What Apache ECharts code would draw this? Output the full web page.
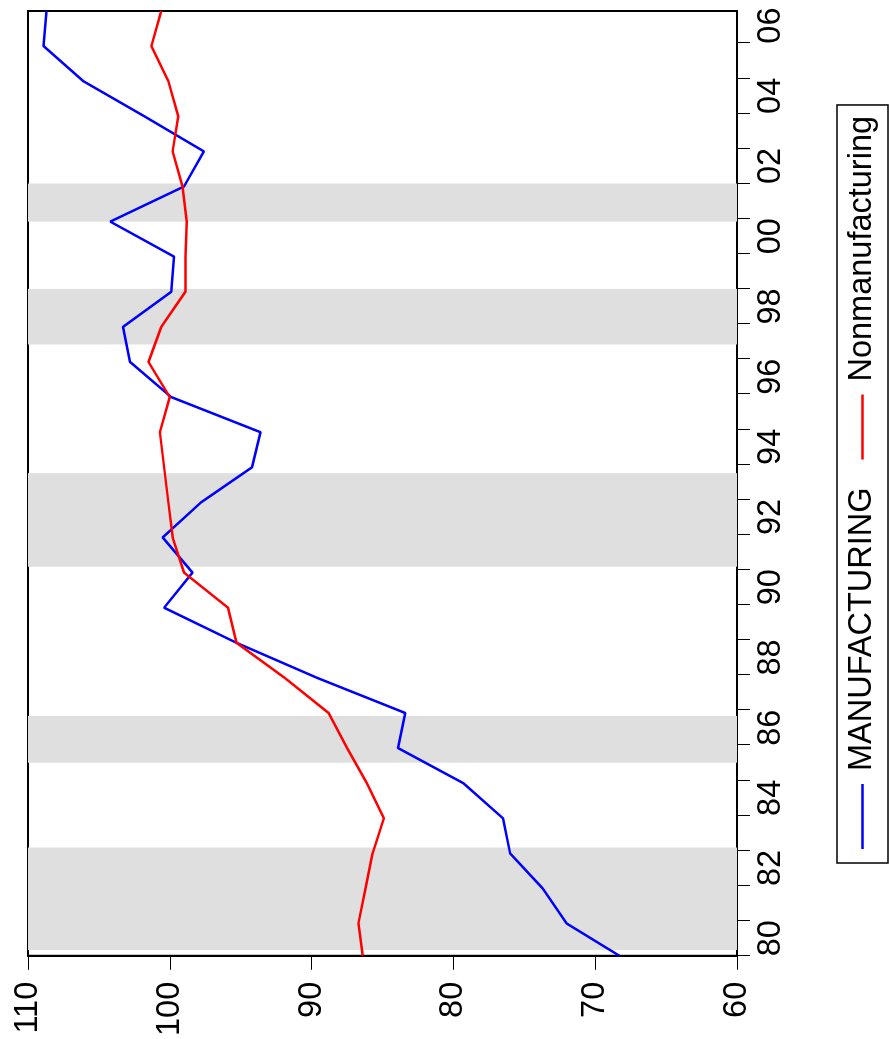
<!DOCTYPE html>
<html>
<head>
<meta charset="utf-8">
<script src="https://cdn.jsdelivr.net/npm/echarts@6/dist/echarts.min.js"></script>
<style>
  html, body { margin: 0; padding: 0; width: 889px; height: 1039px; overflow: hidden; background: #fff; }
  /* The chart is laid out landscape and turned a quarter-turn counter-clockwise. */
  #chart {
    position: absolute; left: 0; top: 0;
    width: 1039px; height: 889px;
    transform-origin: 0 0;
    transform: translate(0, 1039px) rotate(-90deg);
  }
</style>
</head>
<body>
<div id="chart"></div>
<script>
// Observation dates (December readings, plus the opening January 1980 reading)
const obsDates = [
  '1980-01', '1980-12', '1981-12', '1982-12', '1983-12', '1984-12', '1985-12',
  '1986-12', '1987-12', '1988-12', '1989-12', '1990-12', '1991-12', '1992-12',
  '1993-12', '1994-12', '1995-12', '1996-12', '1997-12', '1998-12', '1999-12',
  '2000-12', '2001-12', '2002-12', '2003-12', '2004-12', '2005-12', '2006-12'
];

const manufacturing = [
  68.3, 72.0, 73.7, 76.0, 76.5, 79.3, 83.9,
  83.4, 89.6, 95.3, 100.4, 98.4, 100.5, 97.8,
  94.2, 93.6, 99.9, 102.8, 103.3, 99.9, 99.7,
  104.2, 99.0, 97.6, 101.8, 106.1, 108.9, 108.7
];

const nonmanufacturing = [
  86.4, 86.7, 86.2, 85.7, 84.9, 86.1, 87.5,
  88.8, 91.9, 95.3, 95.9, 99.0, 99.8, 100.1,
  100.4, 100.7, 100.0, 101.5, 100.6, 98.9, 98.9,
  98.8, 99.1, 99.8, 99.4, 100.1, 101.3, 100.6
];

// Recession periods (start month, end month)
const recessions = [
  ['1980-03', '1983-02'],
  ['1985-07', '1986-11'],
  ['1991-02', '1993-10'],
  ['1997-06', '1999-01'],
  ['2000-12', '2002-01']
];

// Year boundaries get ticks; every other year gets a label centred in its year
const tickYears = [
  1980, 1981, 1982, 1983, 1984, 1985, 1986, 1987, 1988, 1989, 1990, 1991, 1992, 1993,
  1994, 1995, 1996, 1997, 1998, 1999, 2000, 2001, 2002, 2003, 2004, 2005, 2006
];
const labelYears = [1980, 1982, 1984, 1986, 1988, 1990, 1992, 1994, 1996, 1998, 2000, 2002, 2004, 2006];

const valueTicks = { min: 60, max: 110, step: 10 };
const timeStart = '1980-01';
const timeEnd = '2006-12';

function toYear(s) {
  return Number(s.slice(0, 4)) + (Number(s.slice(5, 7)) - 1) / 12;
}

const FONT = '"Liberation Sans", Arial, Helvetica, sans-serif';

const chart = echarts.init(document.getElementById('chart'), null, { renderer: 'canvas' });

chart.setOption({
  animation: false,
  backgroundColor: '#fff',
  textStyle: { fontFamily: FONT },
  grid: {
    left: 83, right: 11, top: 28, bottom: 152,
    show: true, borderColor: '#000', borderWidth: 2, backgroundColor: 'transparent'
  },
  legend: {
    left: 176, top: 837,
    orient: 'horizontal',
    padding: [9, 11, 9, 14],
    icon: 'rect',
    itemWidth: 65, itemHeight: 2.5, itemGap: 28,
    borderColor: '#000', borderWidth: 1.5,
    textStyle: { fontSize: 32.5, color: '#000', fontFamily: FONT, padding: [0, 0, 0, 8] },
    data: ['MANUFACTURING', 'Nonmanufacturing']
  },
  xAxis: {
    type: 'value',
    min: toYear(timeStart),
    max: toYear(timeEnd),
    axisLine: { show: true, onZero: false, lineStyle: { color: '#000', width: 2 } },
    axisTick: {
      show: true, inside: false, length: 13,
      customValues: tickYears,
      lineStyle: { color: '#000', width: 1 }
    },
    axisLabel: {
      show: true, margin: 18, fontSize: 32.5, color: '#000', fontFamily: FONT,
      customValues: labelYears.map(y => y + 0.5),
      formatter: v => String(Math.floor(v) % 100).padStart(2, '0')
    },
    splitLine: { show: false }
  },
  yAxis: {
    type: 'value',
    min: valueTicks.min, max: valueTicks.max, interval: valueTicks.step,
    axisLine: { show: true, lineStyle: { color: '#000', width: 2 } },
    axisTick: { show: true, inside: false, length: 14, lineStyle: { color: '#000', width: 1 } },
    axisLabel: { margin: 26, fontSize: 32.5, color: '#000', fontFamily: FONT },
    splitLine: { show: false }
  },
  series: [
    {
      name: 'MANUFACTURING',
      type: 'line',
      symbol: 'none',
      lineStyle: { color: '#0000FF', width: 2.5 },
      itemStyle: { color: '#0000FF' },
      data: obsDates.map((d, i) => [toYear(d), manufacturing[i]]),
      markArea: {
        silent: true,
        itemStyle: { color: '#DFDFDF' },
        data: recessions.map(r => [{ xAxis: toYear(r[0]) }, { xAxis: toYear(r[1]) }])
      },
      z: 3
    },
    {
      name: 'Nonmanufacturing',
      type: 'line',
      symbol: 'none',
      lineStyle: { color: '#FF0000', width: 2.5 },
      itemStyle: { color: '#FF0000' },
      data: obsDates.map((d, i) => [toYear(d), nonmanufacturing[i]]),
      z: 4
    }
  ]
});
</script>
</body>
</html>
